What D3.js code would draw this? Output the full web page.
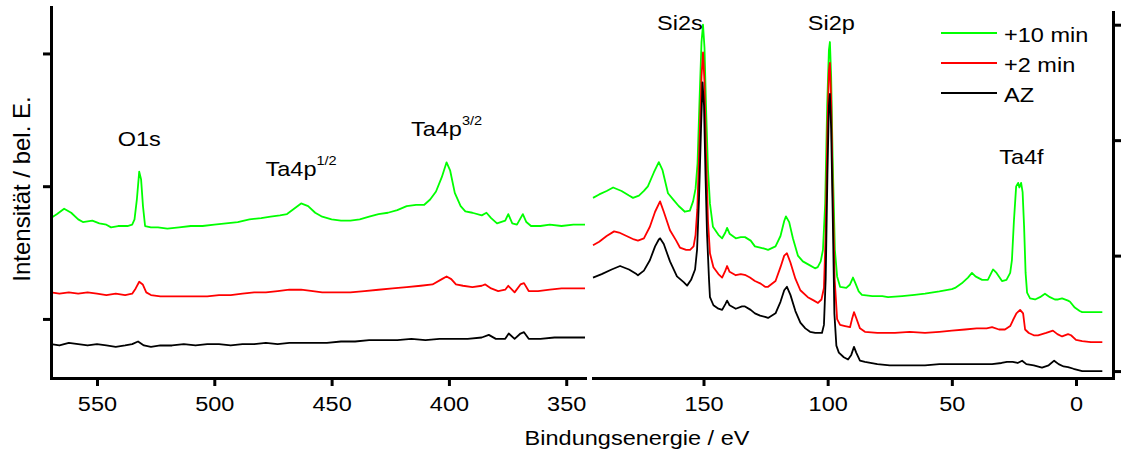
<!DOCTYPE html>
<html><head><meta charset="utf-8">
<script src="https://cdn.jsdelivr.net/npm/d3@7"></script>
<style>
html,body{margin:0;padding:0;background:#fff;}
text{font-family:"Liberation Sans",Arial,sans-serif;fill:#000;}
</style></head>
<body>
<svg id="chart" width="1121" height="450"></svg>
<script>
// ---------- data ----------
const seriesNames = ["+10 min", "+2 min", "AZ"];
const seriesColors = ["#00ff00", "#ff0000", "#000000"];

const xTicksLeft = [550, 500, 450, 400, 350];
const xTicksRight = [150, 100, 50, 0];
const yTicksLeft = [1, 2, 3];
const yTicksRight = [0, 1, 2, 3];

// left panel (eV, intensity a.u.)
const left10 = [[569.6,1.76],[567,1.79],[564,1.83],[561,1.80],[558,1.75],[556,1.73],[552,1.74],[549,1.72],[546,1.71],[544,1.69],[541,1.70],[537,1.70],[535,1.71],[534,1.75],[533,1.90],[532,2.11],[531.2,2.05],[530.4,1.85],[529.5,1.70],[527,1.69],[524,1.69],[520,1.68],[515,1.69],[510,1.70],[505,1.70],[500,1.71],[495,1.72],[490,1.73],[485,1.75],[480,1.76],[476,1.77],[472,1.78],[469,1.79],[466,1.83],[463,1.87],[460,1.85],[457,1.80],[454,1.77],[450,1.75],[446,1.74],[442,1.74],[438,1.75],[434,1.77],[430,1.79],[426,1.80],[422,1.82],[418,1.85],[414,1.86],[410.5,1.86],[408,1.90],[405.5,1.96],[403,2.07],[401,2.18],[399.5,2.12],[397.5,1.95],[395,1.85],[393,1.81],[390,1.80],[386,1.78],[384,1.80],[382,1.76],[379.5,1.72],[376,1.74],[374.7,1.79],[373,1.72],[371,1.71],[368.5,1.79],[367,1.73],[365,1.70],[361,1.70],[357,1.71],[352,1.70],[347,1.71],[342,1.71]];
const left2 = [[569.6,1.20],[566,1.19],[562,1.20],[558,1.19],[554,1.20],[550,1.19],[546,1.18],[542,1.19],[538,1.18],[535,1.19],[533.5,1.23],[532,1.28],[530.5,1.26],[529,1.20],[527,1.18],[523,1.17],[518,1.17],[513,1.17],[508,1.17],[503,1.17],[498,1.18],[493,1.18],[488,1.19],[483,1.20],[478,1.20],[473,1.21],[468,1.22],[463,1.22],[458,1.21],[454,1.20],[448,1.20],[442,1.20],[436,1.21],[430,1.22],[424,1.23],[418,1.24],[412,1.25],[407,1.26],[403,1.30],[401,1.32],[399,1.30],[397,1.26],[394,1.25],[390,1.24],[386,1.25],[384.5,1.26],[382,1.23],[379,1.21],[376,1.22],[374.7,1.25],[372,1.20],[369.5,1.26],[368,1.27],[366,1.21],[362,1.21],[357,1.22],[352,1.23],[346,1.23],[342,1.23]];
const leftAZ = [[569.6,0.81],[566,0.80],[562,0.82],[558,0.81],[554,0.80],[550,0.81],[546,0.80],[542,0.79],[538,0.80],[535,0.81],[532.5,0.83],[530,0.80],[527,0.79],[523,0.80],[518,0.80],[513,0.81],[508,0.80],[503,0.81],[498,0.81],[493,0.80],[488,0.81],[483,0.81],[478,0.82],[473,0.81],[468,0.82],[463,0.82],[458,0.82],[452,0.82],[446,0.83],[440,0.83],[434,0.84],[428,0.84],[422,0.84],[416,0.85],[410,0.84],[404,0.85],[398,0.85],[392,0.85],[386,0.86],[383,0.88],[380,0.85],[376,0.85],[374.5,0.89],[372,0.85],[369.5,0.89],[368,0.90],[366,0.85],[361,0.85],[355,0.86],[349,0.86],[342,0.86]];

// right panel (eV, intensity a.u.)
const right10 = [[194.5,1.50],[192,1.53],[189,1.56],[186.4,1.59],[183,1.56],[180,1.52],[178.4,1.50],[176,1.52],[174,1.56],[172.4,1.60],[170,1.72],[168,1.81],[166.5,1.74],[164.3,1.54],[162,1.48],[160,1.43],[157.5,1.38],[155.5,1.39],[154.2,1.47],[153.2,1.58],[152.4,1.80],[151.6,2.35],[150.8,2.85],[150.2,3.0],[149.6,2.8],[149,2.3],[148.2,1.75],[147.4,1.45],[146.2,1.25],[144,1.18],[142.5,1.15],[141.2,1.20],[140.5,1.24],[139.5,1.19],[137,1.15],[135,1.16],[133.3,1.16],[131,1.13],[129.3,1.08],[127.2,1.07],[125.5,1.06],[124,1.05],[121,1.08],[119,1.17],[117.5,1.30],[116.8,1.34],[115.5,1.29],[114,1.15],[112,1.00],[110,0.95],[107.5,0.92],[105.1,0.89],[104,0.90],[102.8,0.95],[101.9,1.05],[101,1.45],[100.2,2.3],[99.5,2.78],[99.1,2.85],[98.6,2.55],[98,1.85],[97.1,1.05],[96.2,0.82],[95,0.73],[92.5,0.72],[91,0.75],[89.8,0.81],[88.8,0.76],[87.5,0.69],[86.2,0.66],[82,0.65],[78,0.65],[75.7,0.64],[70,0.65],[65,0.66],[60.8,0.67],[55,0.69],[50,0.71],[48.7,0.72],[46,0.76],[43.5,0.81],[41.9,0.85],[40.5,0.82],[37.8,0.79],[35.5,0.79],[33.4,0.88],[32,0.85],[29.8,0.78],[28,0.79],[26.5,0.85],[25.8,0.96],[25,1.30],[24.1,1.60],[23.3,1.63],[22.8,1.59],[22.1,1.63],[21.5,1.55],[20.9,1.25],[20.3,0.85],[19.7,0.68],[18.5,0.63],[16.5,0.62],[14.5,0.64],[12.5,0.67],[10.5,0.64],[8.5,0.62],[7.2,0.62],[5.6,0.63],[3.2,0.61],[2.4,0.60],[0.5,0.55],[-1.5,0.52],[-2.5,0.51],[-6,0.51],[-10.6,0.51]];
const right2 = [[194.5,1.09],[192,1.12],[189,1.17],[186,1.21],[184,1.20],[181,1.17],[178,1.14],[176.4,1.13],[174,1.15],[171.6,1.25],[169.5,1.38],[167.5,1.47],[166,1.38],[163.5,1.22],[161,1.13],[159.5,1.07],[157,1.05],[155.4,1.05],[154,1.08],[153.2,1.18],[152.5,1.40],[151.6,2.0],[150.8,2.55],[150.2,2.76],[149.6,2.5],[149,1.9],[148.2,1.30],[147.4,1.02],[146,0.90],[144,0.84],[142.5,0.81],[141.2,0.87],[140.5,0.91],[139.5,0.86],[137,0.83],[135,0.84],[133,0.83],[131.3,0.81],[129.3,0.78],[127.2,0.76],[125.2,0.73],[124,0.73],[121,0.78],[119,0.90],[117.5,1.00],[116.4,1.02],[115,0.94],[113,0.80],[111,0.70],[108,0.64],[105.5,0.61],[103.9,0.59],[102.5,0.62],[101.5,0.72],[100.8,1.2],[100.1,2.1],[99.5,2.6],[99.1,2.67],[98.6,2.35],[98,1.6],[97.2,0.80],[96.2,0.45],[95,0.40],[93,0.39],[91,0.38],[90.2,0.45],[89.4,0.51],[88.5,0.46],[87,0.37],[85,0.34],[80,0.33],[75,0.33],[72.9,0.33],[67,0.34],[60.8,0.33],[55,0.34],[50,0.35],[44.7,0.36],[40,0.37],[36,0.37],[33.8,0.38],[31,0.36],[28.6,0.36],[26.5,0.39],[25.4,0.44],[24,0.50],[22.5,0.53],[21.3,0.50],[20.5,0.36],[19,0.33],[17,0.31],[15.3,0.31],[12,0.33],[9.3,0.35],[7.5,0.32],[5.6,0.30],[3.2,0.32],[2,0.31],[0,0.27],[-2.5,0.26],[-6,0.25],[-10.6,0.25]];
const rightAZ = [[194.5,0.81],[191,0.84],[187,0.88],[183.6,0.91],[180,0.88],[177,0.84],[176.4,0.83],[174,0.87],[171.6,0.96],[169.5,1.08],[168,1.14],[167.5,1.15],[166,1.10],[163.5,0.95],[160.7,0.82],[158,0.77],[156.6,0.74],[155,0.79],[153.4,0.88],[152.6,1.05],[151.8,1.5],[151,2.1],[150.4,2.5],[149.8,2.3],[149.2,1.7],[148.6,1.2],[147.8,0.80],[147.4,0.64],[146,0.57],[144,0.54],[142.5,0.53],[141.2,0.58],[140.5,0.61],[139.5,0.57],[137,0.54],[134.5,0.56],[133.3,0.56],[131,0.53],[129.3,0.50],[127.2,0.48],[125.2,0.47],[124,0.46],[121,0.50],[119,0.60],[117.5,0.70],[116.4,0.73],[115,0.66],[113,0.52],[111,0.42],[109,0.37],[107.1,0.34],[105,0.33],[102.3,0.33],[101.5,0.40],[100.8,0.8],[100.1,1.7],[99.5,2.3],[99.1,2.4],[98.6,2.1],[98,1.4],[97.3,0.5],[96.5,0.22],[95.5,0.16],[93.5,0.12],[91.8,0.10],[90.5,0.14],[89.4,0.21],[88.5,0.16],[87,0.09],[85,0.08],[80,0.06],[75,0.05],[72.9,0.05],[66,0.05],[60.8,0.05],[55,0.06],[50,0.06],[45,0.06],[40,0.06],[33.8,0.06],[30,0.07],[27.8,0.08],[25.5,0.08],[23.5,0.07],[21.7,0.09],[20,0.06],[17,0.05],[13.7,0.03],[11,0.05],[8.8,0.09],[7,0.06],[5,0.04],[3.2,0.035],[1,0.02],[-2.5,0.0],[-6,0.0],[-10.6,0.0]];

// peak labels: [text, superscript, panel, eV, intensity]
const peakLabels = [
  ["O1s", "", "L", 532, 2.30],
  ["Ta4p", "1/2", "L", 463, 2.08],
  ["Ta4p", "3/2", "L", 401, 2.38],
  ["Si2s", "", "R", 159.5, 2.95],
  ["Si2p", "", "R", 98.5, 2.95],
  ["Ta4f", "", "R", 22, 1.79]
];

// ---------- layout ----------
const svg = d3.select("#chart");
const bottomY = 378;
const xL = d3.scaleLinear().domain([569.6, 342]).range([51, 585]);
const xR = d3.scaleLinear().domain([194.5, -14.9]).range([593, 1113]);
const yL = d3.scaleLinear().domain([0.555, 3.35]).range([bottomY, 7]);
const yR = d3.scaleLinear().domain([-0.06, 3.11]).range([bottomY, 12]);
const SX = 1.12; // horizontal text stretch

const leftSets = [left10, left2, leftAZ];
const rightSets = [right10, right2, rightAZ];

const lineL = d3.line().x(d => xL(d[0])).y(d => yL(d[1]));
const lineR = d3.line().x(d => xR(d[0])).y(d => yR(d[1]));

const gData = svg.append("g");
leftSets.forEach((s, i) => {
  gData.append("path").attr("d", lineL(s)).attr("fill", "none")
    .attr("stroke", seriesColors[i]).attr("stroke-width", 1.8).attr("stroke-linejoin", "round");
});
rightSets.forEach((s, i) => {
  gData.append("path").attr("d", lineR(s)).attr("fill", "none")
    .attr("stroke", seriesColors[i]).attr("stroke-width", 1.8).attr("stroke-linejoin", "round");
});

function styleAxis(g) {
  g.selectAll("path.domain").attr("stroke", "#000").attr("stroke-width", 3).attr("stroke-linecap", "square");
  g.selectAll(".tick line").attr("stroke", "#000").attr("stroke-width", 3);
  g.selectAll(".tick text").attr("font-size", 21).attr("fill", "#000")
    .attr("font-family", "Liberation Sans, Arial, sans-serif")
    .attr("transform", `scale(${SX},1)`);
}

svg.append("g").attr("transform", `translate(0,${bottomY})`)
  .call(d3.axisBottom(xL).tickValues(xTicksLeft).tickSize(8).tickSizeOuter(0).tickPadding(10))
  .call(styleAxis);
svg.append("g").attr("transform", `translate(0,${bottomY})`)
  .call(d3.axisBottom(xR).tickValues(xTicksRight).tickSize(8).tickSizeOuter(0).tickPadding(10))
  .call(styleAxis);
svg.append("g").attr("transform", `translate(51,0)`)
  .call(d3.axisLeft(yL).tickValues(yTicksLeft).tickSize(8).tickSizeOuter(0).tickFormat(""))
  .call(styleAxis);
svg.append("g").attr("transform", `translate(1113,0)`)
  .call(d3.axisRight(yR).tickValues(yTicksRight).tickSize(8).tickSizeOuter(0).tickFormat(""))
  .call(styleAxis);

// axis titles
svg.append("text").attr("transform", `translate(637,445) scale(${SX},1)`)
  .attr("text-anchor", "middle").attr("font-size", 21).text("Bindungsenergie / eV");
svg.append("text").attr("transform", "translate(30,189) rotate(-90)")
  .attr("text-anchor", "middle").attr("font-size", 24).text("Intensität / bel. E.");

// peak labels
peakLabels.forEach(([t, sup, p, e, v]) => {
  const x = p === "L" ? xL(e) : xR(e);
  const y = p === "L" ? yL(v) : yR(v);
  const g = svg.append("g").attr("transform", `translate(${x},${y}) scale(${SX},1)`);
  const txt = g.append("text").attr("text-anchor", "middle").attr("font-size", 21);
  txt.append("tspan").text(t);
  if (sup) {
    txt.append("tspan").attr("font-size", 13).attr("dy", -11).text(sup);
  }
});

// legend
const legX = 941, legY0 = 33, legDY = 30;
seriesNames.forEach((n, i) => {
  const y = legY0 + i * legDY;
  svg.append("line").attr("x1", legX).attr("x2", legX + 56).attr("y1", y).attr("y2", y)
    .attr("stroke", seriesColors[i]).attr("stroke-width", 2);
  svg.append("text").attr("transform", `translate(${legX + 63},${y + 8.5}) scale(${SX},1)`)
    .attr("font-size", 21).text(n);
});
</script>
</body></html>
